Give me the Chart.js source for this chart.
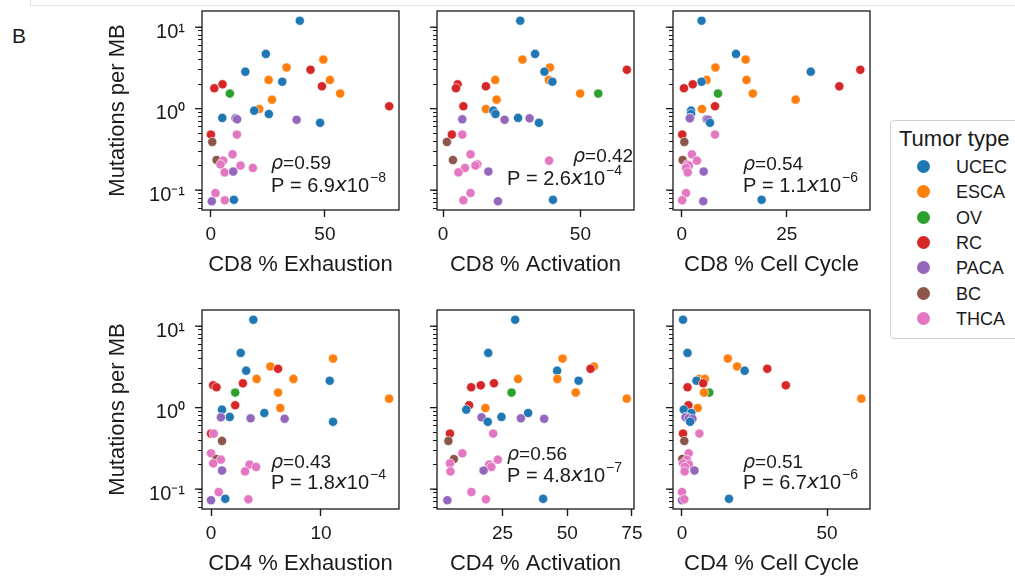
<!DOCTYPE html>
<html>
<head>
<meta charset="utf-8">
<script src="https://cdn.jsdelivr.net/npm/chart.js@4.4.1/dist/chart.umd.min.js"></script>
<style>
  body { margin:0; width:1015px; height:579px; overflow:hidden; background:#fff; position:relative;
         font-family:"Liberation Sans", Arial, sans-serif; color:#1a1a1a; }
  canvas { position:absolute; }
  #frame { position:absolute; left:30px; top:-1px; width:990px; height:6px; border-left:1px solid #e4e4e4; border-bottom:1px solid #e4e4e4; }
  #tag { position:absolute; left:12px; top:24px; font-size:21px; line-height:24px; }
  #legend { position:absolute; left:890px; top:120px; width:140px; height:217px; border:1px solid #d2d2d2; border-radius:4px; background:#fff; }
  #legend .ttl { position:absolute; left:8px; top:5px; font-size:22px; line-height:26px; white-space:nowrap; }
  #legend .row { position:absolute; left:0; height:24px; width:130px; }
  #legend .dot { position:absolute; left:26px; top:5px; width:13px; height:13px; border-radius:50%; }
  #legend .lab { position:absolute; left:65px; top:0; font-size:18px; line-height:24px; }
</style>
</head>
<body>
<div id="frame"></div>
<div id="tag">B</div>
<div id="legend"><div class="ttl">Tumor type</div></div>
<script>
const tumorTypes = ['UCEC', 'ESCA', 'OV', 'RC', 'PACA', 'BC', 'THCA'];
const typeColors = ['#1f77b4', '#ff7f0e', '#2ca02c', '#d62728', '#9467bd', '#8c564b', '#e377c2'];

// one entry per tumour sample, same order in every array below
const sampleType = ['UCEC','UCEC','ESCA','ESCA','RC','UCEC','ESCA','ESCA','UCEC','RC',
  'RC','RC','OV','ESCA','ESCA','RC','ESCA','UCEC','UCEC','UCEC',
  'PACA','PACA','PACA','UCEC','RC','THCA','BC','THCA','BC','THCA',
  'THCA','THCA','THCA','THCA','PACA','THCA','PACA','THCA','UCEC'];
const mutationsPerMB = [12.0, 4.7, 4.0, 3.2, 3.0, 2.84, 2.25, 2.25, 2.14, 1.99,
  1.88, 1.78, 1.53, 1.53, 1.29, 1.07, 0.99, 0.945, 0.86, 0.77,
  0.76, 0.74, 0.73, 0.67, 0.48, 0.48, 0.39, 0.275, 0.234, 0.23,
  0.207, 0.2, 0.187, 0.165, 0.169, 0.092, 0.073, 0.075, 0.076];

const cd8Exhaustion = [39.0, 24.1, 49.3, 33.2, 43.7, 15.1, 25.3, 52.2, 31.3, 5.1,
  48.7, 1.5, 8.3, 56.7, 26.8, 78.2, 21.2, 19.0, 25.4, 5.0,
  10.8, 11.5, 37.6, 47.9, 0, 11.4, 0.6, 9.5, 2.5, 5.4,
  4.2, 13.0, 18.4, 6.0, 9.8, 2.0, 0.4, 6.1, 10.1];
const cd8Activation = [28.1, 33.5, 28.9, 38.9, 66.9, 36.9, 19.0, 38.5, 39.8, 5.3,
  15.6, 4.7, 56.5, 49.9, 19.5, 7.4, 15.6, 18.3, 19.1, 27.3,
  31.5, 7.0, 22.4, 34.9, 3.2, 7.0, 1.4, 10.0, 3.6, 38.6,
  12.5, 11.8, 8.0, 5.6, 16.5, 10.0, 20.0, 7.4, 40.0];
const cd8CellCycle = [4.7, 12.9, 15.2, 8.0, 42.5, 30.7, 5.9, 15.4, 4.7, 2.6,
  37.5, 0.5, 8.6, 16.9, 27.1, 7.9, 4.8, 2.2, 2.2, 2.0,
  1.9, 5.9, 6.3, 6.7, 0.1, 7.9, 0.6, 2.4, 0.2, 3.6,
  1.3, 1.7, 1.0, 1.4, 5.2, 1.0, 5.1, 0.1, 19.0];
const cd4Exhaustion = [3.85, 2.7, 11.1, 5.4, 6.1, 3.2, 4.15, 7.5, 10.8, 2.9,
  0.2, 0.5, 2.2, 6.1, 16.2, 2.2, 6.3, 1.0, 4.85, 1.7,
  0.9, 3.6, 6.7, 11.1, 0, 0.25, 1.0, 0, 0.5, 0.9,
  0.2, 3.5, 4.1, 3.1, 1.0, 0.7, 0, 3.4, 1.3];
const cd4Activation = [29.9, 19.5, 48.2, 60.3, 59.0, 46.1, 31.0, 46.2, 54.4, 21.7,
  16.6, 12.9, 28.5, 53.3, 73.0, 12.1, 18.4, 11.0, 34.9, 24.6,
  16.9, 32.1, 41.1, 19.3, 4.7, 21.4, 4.1, 9.5, 6.2, 23.2,
  4.7, 19.9, 20.7, 4.9, 17.7, 13.0, 3.7, 18.6, 40.7];
const cd4CellCycle = [0.35, 1.9, 15.8, 19.0, 29.4, 21.6, 5.9, 7.9, 5.0, 7.3,
  35.8, 1.9, 9.4, 7.6, 61.8, 2.2, 5.4, 0.6, 3.2, 1.5,
  1.2, 2.3, 3.6, 2.8, 0.35, 6.0, 0.8, 2.3, 0.1, 1.7,
  0.35, 2.4, 1.0, 0.9, 4.3, 0, 0, 0.8, 16.2];

const rhoValues = ['0.59', '0.42', '0.54', '0.43', '0.56', '0.51'];
const pMantissa = ['6.9', '2.6', '1.1', '1.8', '4.8', '6.7'];
const pExponent = ['\u22128', '\u22124', '\u22126', '\u22124', '\u22127', '\u22126'];
const yMajorLabels = {'0.1': '10\u207B\u00B9', '1': '10\u2070', '10': '10\u00B9'};

const ink = '#1a1a1a';
const plotW = 197, plotH = 199, axisW = 110, axisH = 70, padTop = 11, padRight = 14;
const colLeft = [202, 437, 673];
const rowTop = [11, 310];

const panels = [
  {xs: cd8Exhaustion, title: 'CD8 % Exhaustion', ticks: [0, 50], min: -3.9, max: 82.5, col: 0, row: 0, rhoAt: [69, 153], pAt: [69, 175]},
  {xs: cd8Activation, title: 'CD8 % Activation', ticks: [0, 50], min: -2.2, max: 69.5, col: 1, row: 0, rhoAt: [136, 146], pAt: [70, 168]},
  {xs: cd8CellCycle, title: 'CD8 % Cell Cycle', ticks: [0, 25], min: -2.1, max: 44.8, col: 2, row: 0, rhoAt: [70, 154], pAt: [70, 175]},
  {xs: cd4Exhaustion, title: 'CD4 % Exhaustion', ticks: [0, 10], min: -0.82, max: 17.1, col: 0, row: 1, rhoAt: [69, 153], pAt: [69, 173]},
  {xs: cd4Activation, title: 'CD4 % Activation', ticks: [25, 50, 75], min: -0.3, max: 75.8, col: 1, row: 1, rhoAt: [70, 145], pAt: [70, 166]},
  {xs: cd4CellCycle, title: 'CD4 % Cell Cycle', ticks: [0, 50], min: -3.1, max: 64.8, col: 2, row: 1, rhoAt: [70, 153], pAt: [70, 173]}
];

const yMin = 0.057, yMax = 15.8;
const yTickValues = [];
for (let e = -2; e <= 1; e++) {
  for (let m = 1; m <= 9; m++) {
    const v = parseFloat((m * Math.pow(10, e)).toPrecision(2));
    if (v >= yMin && v <= yMax) yTickValues.push(v);
  }
}

function isMajor(v) {
  const l = Math.log10(v);
  return Math.abs(l - Math.round(l)) < 1e-9;
}

const panelDecor = {
  id: 'panelDecor',
  afterDraw(chart, args, opts) {
    const {ctx, chartArea: a, scales} = chart;
    ctx.save();
    ctx.strokeStyle = ink;
    ctx.lineWidth = 1.3;
    ctx.strokeRect(a.left, a.top, a.right - a.left, a.bottom - a.top);
    // matplotlib draws major log ticks longer than minor ones
    yTickValues.filter(isMajor).forEach(v => {
      const y = scales.y.getPixelForValue(v);
      ctx.beginPath();
      ctx.moveTo(a.left - 7, y);
      ctx.lineTo(a.left, y);
      ctx.stroke();
    });
    ctx.fillStyle = ink;
    ctx.textBaseline = 'middle';
    ctx.textAlign = 'left';
    let x = a.left + opts.rhoAt[0], y = a.top + opts.rhoAt[1];
    ctx.font = 'italic 19px "DejaVu Sans"';
    ctx.fillText('\u03C1', x, y);
    x += ctx.measureText('\u03C1').width;
    ctx.font = '19px "Liberation Sans"';
    ctx.fillText('=' + opts.rho, x, y);

    x = a.left + opts.pAt[0]; y = a.top + opts.pAt[1];
    ctx.font = '20px "Liberation Sans"';
    const head = 'P = ' + opts.mant;
    ctx.fillText(head, x, y);
    x += ctx.measureText(head).width;
    ctx.font = 'italic 20px "DejaVu Sans"';
    ctx.fillText('x', x, y);
    x += ctx.measureText('x').width;
    ctx.font = '20px "Liberation Sans"';
    ctx.fillText('10', x, y);
    x += ctx.measureText('10').width + 1;
    ctx.font = '14px "Liberation Sans"';
    ctx.fillText(opts.exp, x, y - 8);
    ctx.restore();
  }
};

panels.forEach((p, i) => {
  const canvas = document.createElement('canvas');
  canvas.width = axisW + plotW + padRight;
  canvas.height = padTop + plotH + axisH;
  canvas.style.left = (colLeft[p.col] - axisW) + 'px';
  canvas.style.top = (rowTop[p.row] - padTop) + 'px';
  document.body.appendChild(canvas);

  const points = p.xs.map((x, k) => ({x: x, y: mutationsPerMB[k]}));
  const colors = sampleType.map(t => typeColors[tumorTypes.indexOf(t)]);
  const leftCol = p.col === 0;

  new Chart(canvas.getContext('2d'), {
    type: 'scatter',
    data: {
      datasets: [{
        data: points,
        backgroundColor: colors,
        borderColor: '#ffffff',
        borderWidth: 0.6,
        pointRadius: 4.6
      }]
    },
    options: {
      responsive: false,
      animation: false,
      devicePixelRatio: 1,
      layout: {autoPadding: false, padding: {top: padTop, right: padRight, left: 0, bottom: 0}},
      plugins: {
        legend: {display: false},
        tooltip: {enabled: false},
        panelDecor: {rho: rhoValues[i], mant: pMantissa[i], exp: pExponent[i], rhoAt: p.rhoAt, pAt: p.pAt}
      },
      scales: {
        x: {
          type: 'linear',
          min: p.min,
          max: p.max,
          border: {display: false},
          grid: {drawOnChartArea: false, drawTicks: true, tickLength: 7, tickWidth: 1.4, tickColor: ink},
          ticks: {
            color: ink,
            font: {family: 'Liberation Sans', size: 19},
            padding: 6,
            maxRotation: 0,
            autoSkip: false,
            callback: v => String(v)
          },
          afterBuildTicks: s => { s.ticks = p.ticks.map(v => ({value: v})); },
          afterFit: s => { s.height = axisH; s.paddingLeft = 0; s.paddingRight = 0; },
          title: {
            display: true,
            text: p.title,
            color: ink,
            font: {family: 'Liberation Sans', size: 22},
            padding: {top: 0, bottom: 2}
          }
        },
        y: {
          type: 'logarithmic',
          min: yMin,
          max: yMax,
          border: {display: false},
          grid: {drawOnChartArea: false, drawTicks: true, tickLength: 4, tickWidth: 1, tickColor: ink},
          ticks: {
            display: true,
            color: ink,
            font: {family: 'Liberation Sans', size: 20},
            padding: 13,
            labelOffset: 5,
            autoSkip: false,
            callback: v => (leftCol && isMajor(v)) ? yMajorLabels[String(v)] : ''
          },
          afterBuildTicks: s => { s.ticks = yTickValues.map(v => ({value: v})); },
          afterFit: s => { s.width = axisW; s.paddingTop = 0; s.paddingBottom = 0; },
          title: {
            display: leftCol,
            text: 'Mutations per MB',
            color: ink,
            font: {family: 'Liberation Sans', size: 22},
            padding: {top: 13, bottom: 0}
          }
        }
      }
    },
    plugins: [panelDecor]
  });
});

const legend = document.getElementById('legend');
tumorTypes.forEach((t, i) => {
  const row = document.createElement('div');
  row.className = 'row';
  row.style.top = (34 + i * 25.3) + 'px';
  row.innerHTML = '<span class="dot" style="background:' + typeColors[i] + '"></span><span class="lab">' + t + '</span>';
  legend.appendChild(row);
});
</script>
</body>
</html>
